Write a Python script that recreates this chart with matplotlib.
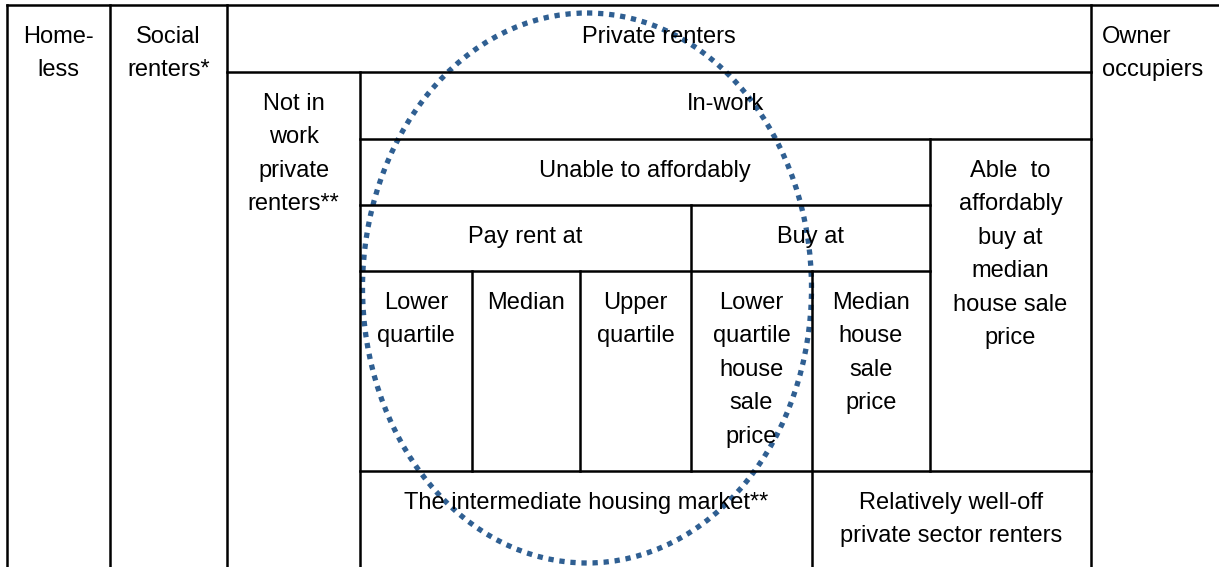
import matplotlib.pyplot as plt
from matplotlib.patches import Ellipse

plt.rcParams['font.family'] = ['Liberation Sans', 'DejaVu Sans']

# cell labels: (text, left, right, top, alignment)
labels = [
    ("Home-\nless", 7, 110, 5, 'center'),
    ("Social\nrenters*", 110, 227, 5, 'center'),
    ("Private renters", 227, 1091, 5, 'center'),
    ("Owner\noccupiers", 1091, 1219, 5, 'left'),
    ("Not in\nwork\nprivate\nrenters**", 227, 360, 72, 'center'),
    ("In-work", 360, 1091, 72, 'center'),
    ("Unable to affordably", 360, 930, 139, 'center'),
    ("Able  to\naffordably\nbuy at\nmedian\nhouse sale\nprice", 930, 1091, 139, 'center'),
    ("Pay rent at", 360, 691, 205, 'center'),
    ("Buy at", 691, 930, 205, 'center'),
    ("Lower\nquartile", 360, 472, 271, 'center'),
    ("Median", 472, 580, 271, 'center'),
    ("Upper\nquartile", 580, 691, 271, 'center'),
    ("Lower\nquartile\nhouse\nsale\nprice", 691, 812, 271, 'center'),
    ("Median\nhouse\nsale\nprice", 812, 930, 271, 'center'),
    ("The intermediate housing market**", 360, 812, 471, 'center'),
    ("Relatively well-off\nprivate sector renters", 812, 1091, 471, 'center'),
]

# grid lines (pixel layout of the table)
h_lines = [(5, 7, 1219), (72, 227, 1091), (139, 360, 1091), (205, 360, 930),
           (271, 360, 930), (471, 360, 1091)]
v_lines = [(7, 5, 567), (110, 5, 567), (227, 5, 567), (1091, 5, 567),
           (360, 72, 567), (930, 139, 471), (691, 205, 471), (472, 271, 471),
           (580, 271, 471), (812, 271, 567)]

fig = plt.figure(figsize=(12.19, 5.67), dpi=100)
ax = fig.add_axes([0, 0, 1, 1])
ax.set_xlim(0, 1219)
ax.set_ylim(567, 0)
ax.axis('off')

for y, x0, x1 in h_lines:
    ax.plot([x0, x1], [y, y], color='black', lw=1.8, solid_capstyle='projecting')
for x, y0, y1 in v_lines:
    ax.plot([x, x], [y0, y1], color='black', lw=1.8, solid_capstyle='projecting')

for text, left, right, top, align in labels:
    if align == 'left':
        x = left + 11
    else:
        x = (left + right) / 2
    ax.text(x, top + 21, text, ha=align, va='top', multialignment=align,
            fontsize=17, linespacing=1.67, color='black')

ell = Ellipse((587, 288), 449, 550, fill=False, edgecolor='#2f5f92',
              lw=3.8, linestyle=(0, (1.0, 1.1)))
ell.set_capstyle('butt')
ax.add_patch(ell)

fig.savefig('out.png', dpi=100)
